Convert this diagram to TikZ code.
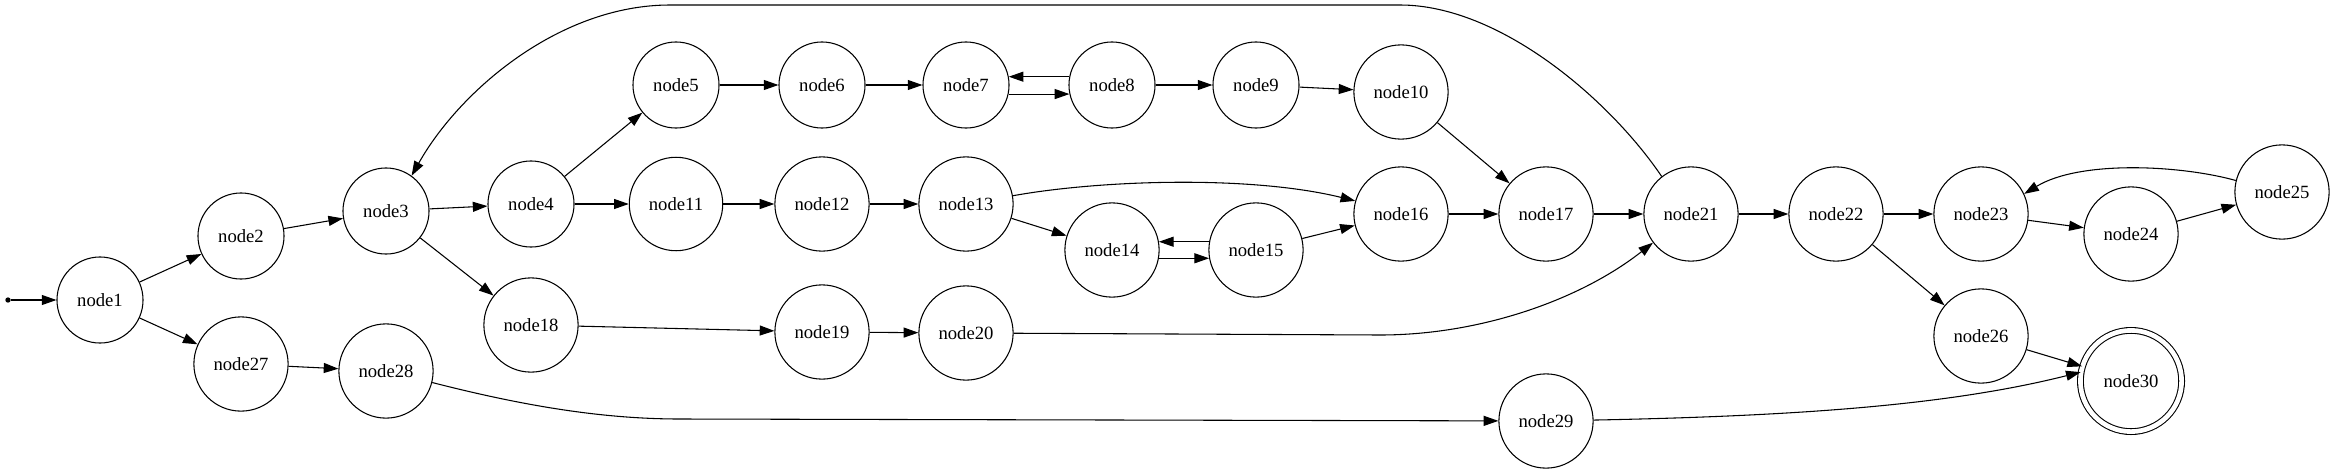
\documentclass[tikz,border=0pt]{standalone}
\usepackage{fontspec}
\setmainfont{Liberation Serif}
\usepackage{tikz}
\usetikzlibrary{arrows.meta}

\begin{document}
\begin{tikzpicture}[x = 0.75pt, y = -0.75pt,
        state/.style = {draw, circle, line width = 0.8pt, inner sep = 11pt, font = \fontsize{14}{16}\selectfont},
        finalstate/.style = {state, double, double distance = 3.5pt, inner sep = 12.9pt},
        edge/.style = {-{Triangle[length = 11pt, width = 7.5pt]}, line width = 0.8pt}]
        \useasboundingbox (0, 0) rectangle (2337, 475);
        \node [circle, fill, inner sep = 0pt, minimum size = 4pt] (start) at (8, 300) {};
        \node [state] (n1) at (100, 300) {node1};
        \node [state] (n2) at (241, 236) {node2};
        \node [state] (n3) at (386, 211) {node3};
        \node [state] (n4) at (531, 204) {node4};
        \node [state] (n5) at (676, 85) {node5};
        \node [state] (n6) at (822, 85) {node6};
        \node [state] (n7) at (966, 85) {node7};
        \node [state] (n8) at (1112, 85) {node8};
        \node [state] (n9) at (1256, 85) {node9};
        \node [state] (n10) at (1401, 92) {node10};
        \node [state] (n11) at (676, 204) {node11};
        \node [state] (n12) at (822, 204) {node12};
        \node [state] (n13) at (966, 204) {node13};
        \node [state] (n14) at (1112, 250) {node14};
        \node [state] (n15) at (1256, 250) {node15};
        \node [state] (n16) at (1401, 214) {node16};
        \node [state] (n17) at (1546, 214) {node17};
        \node [state] (n18) at (531, 325) {node18};
        \node [state] (n19) at (822, 332) {node19};
        \node [state] (n20) at (966, 333) {node20};
        \node [state] (n21) at (1691, 214) {node21};
        \node [state] (n22) at (1836, 214) {node22};
        \node [state] (n23) at (1981, 214) {node23};
        \node [state] (n24) at (2131, 234) {node24};
        \node [state] (n25) at (2282, 192) {node25};
        \node [state] (n26) at (1981, 336) {node26};
        \node [state] (n27) at (241, 364) {node27};
        \node [state] (n28) at (386, 371) {node28};
        \node [state] (n29) at (1546, 421) {node29};
        \node [finalstate] (n30) at (2131, 381) {node30};

        \draw [edge] (start) -- (n1);
        \draw [edge] (n1) -- (n2);
        \draw [edge] (n1) -- (n27);
        \draw [edge] (n2) -- (n3);
        \draw [edge] (n3) -- (n4);
        \draw [edge] (n3) -- (n18);
        \draw [edge] (n4) -- (n5);
        \draw [edge] (n4) -- (n11);
        \draw [edge] (n5) -- (n6);
        \draw [edge] (n6) -- (n7);
        \draw [edge] (n7.-12) -- (n8.-168);
        \draw [edge] (n8.169) -- (n7.11);
        \draw [edge] (n8) -- (n9);
        \draw [edge] (n9) -- (n10);
        \draw [edge] (n10) -- (n17);
        \draw [edge] (n11) -- (n12);
        \draw [edge] (n12) -- (n13);
        \draw [edge] (n13.10) .. controls (1100, 180) and (1250, 175) .. (n16.164);
        \draw [edge] (n13) -- (n14);
        \draw [edge] (n14.-10) -- (n15.-170);
        \draw [edge] (n15.170) -- (n14.10);
        \draw [edge] (n15) -- (n16);
        \draw [edge] (n16) -- (n17);
        \draw [edge] (n17) -- (n21);
        \draw [edge] (n18) -- (n19);
        \draw [edge] (n19) -- (n20);
        \draw [edge] (n20) -- (1380, 335) .. controls (1480, 335) and (1580, 300) .. (n21.217);
        \draw [edge] (n21.128) .. controls (1610, 100) and (1500, 5) .. (1400, 5) -- (670, 5)
            .. controls (560, 5) and (460, 90) .. (n3.54);
        \draw [edge] (n21) -- (n22);
        \draw [edge] (n22) -- (n23);
        \draw [edge] (n22) -- (n26);
        \draw [edge] (n23) -- (n24);
        \draw [edge] (n24) -- (n25);
        \draw [edge] (n25.166) .. controls (2180, 165) and (2080, 160) .. (n23.25);
        \draw [edge] (n26) -- (n30);
        \draw [edge] (n27) -- (n28);
        \draw [edge] (n28.-14) .. controls (520, 405) and (600, 419) .. (680, 419) -- (n29);
        \draw [edge] (n29) .. controls (1800, 416) and (1950, 405) .. (n30.170);
    \end{tikzpicture}
\end{document}
